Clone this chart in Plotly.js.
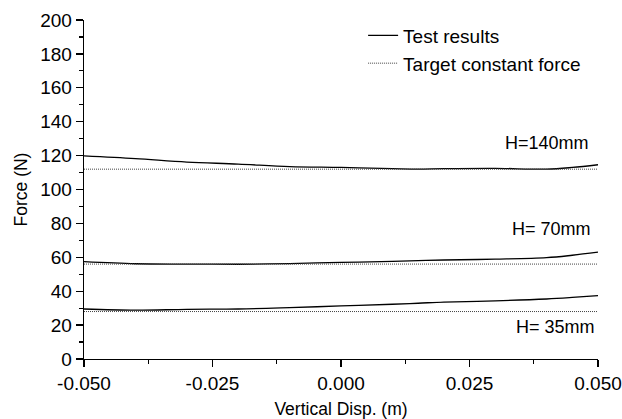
<!DOCTYPE html>
<html><head><meta charset="utf-8">
<script src="https://cdn.plot.ly/plotly-3.0.1.min.js"></script>
<style>body{margin:0;background:#fff}#c{width:622px;height:419px}</style>
</head><body><div id="c"></div>
<script>
const xs = [-0.05, -0.04, -0.03, -0.02, -0.01, 0, 0.01, 0.015, 0.02, 0.03, 0.04, 0.045, 0.05];
const test140 = [119.8, 118.2, 116.2, 115, 113.5, 113, 112.3, 112, 112.3, 112.5, 112, 113, 114.6];
const test70 = [57.4, 56.2, 56, 55.9, 56.3, 57, 57.6, 58, 58.4, 58.9, 59.8, 61.2, 63];
const test35 = [29.5, 28.8, 29.3, 29.5, 30.3, 31.3, 32.3, 32.9, 33.6, 34.3, 35.4, 36.3, 37.4];
const targetX = [-0.05, 0.05];
const target140 = [112, 112];
const target70 = [56, 56];
const target35 = [28, 28];
const labels = ["H=140mm", "H= 70mm", "H= 35mm"];
const labelX = [0.0486, 0.049, 0.0498];
const labelY = [127.6, 76.5, 19];

const testLine = {color: '#000', width: 1.3, shape: 'spline'};
const tgtLine = {color: '#444', width: 1, dash: '1px,1px'};
const traces = [
  {x: xs, y: test140, mode: 'lines', line: testLine, name: 'Test results', showlegend: true},
  {x: targetX, y: target140, mode: 'lines', line: tgtLine, name: 'Target constant force', showlegend: true},
  {x: xs, y: test70, mode: 'lines', line: testLine, showlegend: false},
  {x: targetX, y: target70, mode: 'lines', line: tgtLine, showlegend: false},
  {x: xs, y: test35, mode: 'lines', line: testLine, showlegend: false},
  {x: targetX, y: target35, mode: 'lines', line: tgtLine, showlegend: false}
];
const fam = 'Liberation Sans, Arial, sans-serif';
const layout = {
  width: 622, height: 419,
  margin: {l: 84, r: 24, t: 20, b: 60},
  paper_bgcolor: '#fff', plot_bgcolor: '#fff',
  font: {family: fam, color: '#000'},
  showlegend: true,
  legend: {x: 0.543, y: 1.01, xanchor: 'left', yanchor: 'top', font: {size: 19, family: fam, color: '#000'},
           bgcolor: 'rgba(0,0,0,0)', tracegroupgap: 0},
  xaxis: {
    range: [-0.05, 0.05], tickvals: [-0.05, -0.025, 0, 0.025, 0.05],
    ticktext: ['-0.050', '-0.025', '0.000', '0.025', '0.050'],
    showline: true, linecolor: '#000', linewidth: 1.3, ticks: 'outside', ticklen: 7, tickwidth: 1.3, tickcolor: '#000',
    minor: {tickvals: [-0.0375, -0.0125, 0.0125, 0.0375], ticks: 'outside', ticklen: 4, tickcolor: '#000', tickwidth: 1.2},
    showgrid: false, zeroline: false, mirror: false,
    tickfont: {size: 19, family: fam, color: '#000'},
    title: {text: 'Vertical Disp. (m)', font: {size: 17.5, family: fam, color: '#000'}, standoff: 9}
  },
  yaxis: {
    range: [0, 200], tick0: 0, dtick: 20,
    showline: true, linecolor: '#000', linewidth: 1.3, ticks: 'outside', ticklen: 7, tickwidth: 1.3, tickcolor: '#000',
    minor: {dtick: 10, ticks: 'outside', ticklen: 4, tickcolor: '#000', tickwidth: 1.2},
    showgrid: false, zeroline: false,
    tickfont: {size: 19, family: fam, color: '#000'},
    title: {text: 'Force (N)', font: {size: 17.5, family: fam, color: '#000'}, standoff: 8}
  },
  annotations: labels.map((t, i) => ({
    x: labelX[i], y: labelY[i], xref: 'x', yref: 'y', text: t, showarrow: false,
    xanchor: 'right', font: {size: 18, family: fam, color: '#000'}
  }))
};
Plotly.newPlot('c', traces, layout, {displayModeBar: false, staticPlot: true});
</script></body></html>
